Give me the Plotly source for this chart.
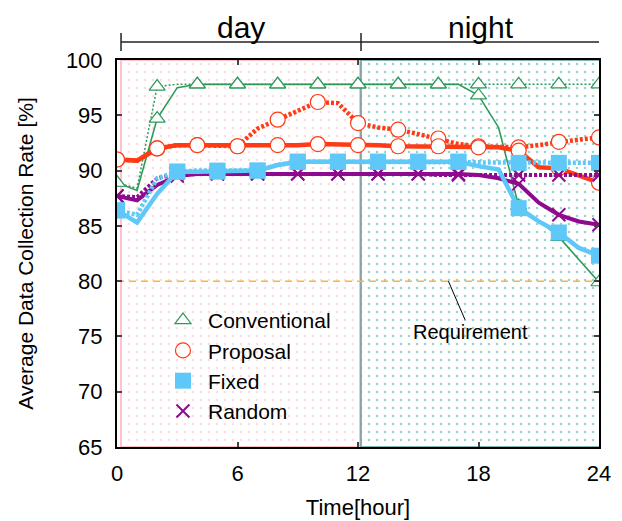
import plotly.graph_objects as go

hours = list(range(25))

conv_solid = [88.9, 88.2, 94.7, 97.5, 97.8, 97.8, 97.8, 97.8, 97.8, 97.8, 97.8, 97.8, 97.8,
              97.8, 97.8, 97.8, 97.8, 97.8, 96.8, 93.9, 86.8, 85.5, 84.0, 82.0, 79.9]
conv_dot = [88.9, 88.4, 97.6, 97.8, 97.8, 97.8, 97.8, 97.8, 97.8, 97.8, 97.8, 97.8, 97.8,
            97.8, 97.8, 97.8, 97.8, 97.8, 97.8, 97.8, 97.8, 97.8, 97.8, 97.8, 97.8]
prop_solid = [91.0, 90.9, 92.0, 92.3, 92.3, 92.3, 92.2, 92.3, 92.3, 92.3, 92.4, 92.4, 92.3,
              92.3, 92.2, 92.2, 92.2, 92.2, 92.1, 92.1, 91.8, 90.3, 90.2, 89.5, 88.9]
prop_dot = [91.0, 90.9, 92.0, 92.3, 92.3, 92.3, 92.2, 93.8, 94.6, 95.5, 96.2, 96.1, 94.3,
            93.9, 93.7, 93.3, 92.9, 92.4, 92.2, 92.1, 92.1, 92.3, 92.6, 92.8, 93.0]
fixed_solid = [86.4, 85.3, 87.9, 89.9, 89.9, 89.9, 90.0, 90.0, 90.5, 90.8, 90.8, 90.8, 90.8,
               90.8, 90.8, 90.8, 90.8, 90.8, 90.4, 90.1, 86.6, 85.4, 84.4, 83.0, 82.3]
fixed_dot = [86.4, 86.0, 89.3, 89.9, 90.0, 90.0, 90.0, 90.0, 90.5, 90.8, 90.8, 90.8, 90.8,
             90.8, 90.8, 90.8, 90.8, 90.8, 90.7, 90.7, 90.7, 90.7, 90.7, 90.7, 90.7]
rand_solid = [87.7, 87.3, 88.7, 89.5, 89.7, 89.7, 89.7, 89.7, 89.7, 89.7, 89.7, 89.7, 89.7,
              89.7, 89.7, 89.7, 89.7, 89.7, 89.6, 89.3, 88.8, 87.1, 86.0, 85.4, 85.1]
rand_dot = [87.7, 87.6, 89.3, 89.7, 89.7, 89.7, 89.7, 89.7, 89.7, 89.7, 89.7, 89.7, 89.7,
            89.7, 89.7, 89.7, 89.6, 89.6, 89.6, 89.6, 89.6, 89.6, 89.6, 89.6, 89.6]

even_marks = [0, 2, 4, 6, 8, 10, 12, 14, 16, 18, 20, 22, 24]
odd_marks = [0, 3, 5, 7, 9, 11, 13, 15, 17, 20, 22, 24]

requirement = 80
x_ticks = [0, 6, 12, 18, 24]
y_ticks = [65, 70, 75, 80, 85, 90, 95, 100]
period_labels = ["day", "night"]

GREEN = "#2e9a5a"
RED = "#ff3a14"
CYAN = "#5ec8f8"
PURPLE = "#8e0a8e"

fig = go.Figure()

# day / night background regions
fig.add_trace(go.Scatter(x=[0.2, 12.1, 12.1, 0.2, 0.2], y=[65, 65, 100, 100, 65], fill="toself",
                         mode="lines", line=dict(color="#ffc0cb", width=2), fillcolor="rgba(0,0,0,0)",
                         fillpattern=dict(shape=".", fgcolor="#ffb6c6", bgcolor="white", size=8, solidity=0.08),
                         showlegend=False, hoverinfo="skip"))
fig.add_trace(go.Scatter(x=[12.15, 24.15, 24.15, 12.15, 12.15], y=[65, 65, 100, 100, 65], fill="toself",
                         mode="lines", line=dict(color="#5f9ea0", width=1.5), fillcolor="rgba(0,0,0,0)",
                         fillpattern=dict(shape=".", fgcolor="#2aa8a8", bgcolor="white", size=8, solidity=0.08),
                         showlegend=False, hoverinfo="skip"))

# requirement line
fig.add_trace(go.Scatter(x=[0, 24], y=[requirement, requirement], mode="lines",
                         line=dict(color="#ffb52e", width=1.5, dash="7px,5px"),
                         showlegend=False, hoverinfo="skip"))


def add_series(name, solid, dot, marks, color, sw, dw, ddash, marker, rank):
    fig.add_trace(go.Scatter(x=hours, y=dot, mode="lines", line=dict(color=color, width=dw, dash=ddash),
                             showlegend=False, hoverinfo="skip"))
    fig.add_trace(go.Scatter(x=hours, y=solid, mode="lines", line=dict(color=color, width=sw),
                             showlegend=False, hoverinfo="skip"))
    fig.add_trace(go.Scatter(x=marks, y=[dot[h] for h in marks], mode="markers", marker=marker,
                             showlegend=False, hoverinfo="skip"))
    fig.add_trace(go.Scatter(x=marks, y=[solid[h] for h in marks], mode="markers", marker=marker,
                             name=name, legendrank=rank))


add_series("Conventional", conv_solid, conv_dot, even_marks, GREEN, 1.6, 1.5, "2px,2px",
           dict(symbol="triangle-up", size=14, color="white", line=dict(color=GREEN, width=1.2)), 1)
add_series("Proposal", prop_solid, prop_dot, even_marks, RED, 4.5, 4.5, "3px,2px",
           dict(symbol="circle", size=15, color="white", line=dict(color=RED, width=1.2)), 2)
add_series("Random", rand_solid, rand_dot, odd_marks, PURPLE, 4, 4, "3px,2px",
           dict(symbol="x-thin", size=13, color=PURPLE, line=dict(color=PURPLE, width=2)), 4)
add_series("Fixed", fixed_solid, fixed_dot, odd_marks, CYAN, 4.5, 4.5, "3px,2px",
           dict(symbol="square", size=16, color=CYAN, line=dict(width=0)), 3)

FONT = "Liberation Sans, Arial, sans-serif"

# page body has an 8px margin, so the figure is drawn 8px in from the window corner
fig.update_layout(
    width=614, height=513,
    margin=dict(l=109, r=23, t=52, b=74, autoexpand=False),
    paper_bgcolor="white", plot_bgcolor="white",
    font=dict(family=FONT, size=22, color="black"),
    showlegend=True,
    legend=dict(x=0.085, y=0.38, xanchor="left", yanchor="top", bgcolor="rgba(0,0,0,0)",
                font=dict(size=21), tracegroupgap=0, itemwidth=40),
    xaxis=dict(range=[0, 24], tickvals=x_ticks, ticks="inside", ticklen=5, tickwidth=1.5,
               showline=True, linecolor="black", linewidth=2, mirror="ticks", showgrid=False,
               zeroline=False, automargin=False, ticklabelstandoff=6,
               title=dict(text="Time[hour]", font=dict(size=22), standoff=14)),
    yaxis=dict(range=[65, 100], tickvals=y_ticks, ticks="inside", ticklen=5, tickwidth=1.5,
               showline=True, linecolor="black", linewidth=2, mirror="ticks", showgrid=False,
               zeroline=False, automargin=False, ticklabelstandoff=8,
               title=dict(text="Average Data Collection Rate [%]", font=dict(size=21), standoff=27)),
)

# top day/night bracket
bracket_y = 1.0465
for x0, x1 in [(0.2, 12.15), (12.15, 24.1)]:
    fig.add_shape(type="line", xref="x", yref="paper", x0=x0, x1=x1, y0=bracket_y, y1=bracket_y,
                  line=dict(color="#222", width=1.5))
for xv in [0.2, 12.15, 24.1]:
    fig.add_shape(type="line", xref="x", yref="paper", x0=xv, x1=xv, y0=1.023, y1=1.07,
                  line=dict(color="#222", width=1.5))
for xv, lab in zip([6.15, 18.1], period_labels):
    fig.add_annotation(x=xv, y=1.085, xref="x", yref="paper", text=lab, showarrow=False,
                       font=dict(size=30), yanchor="middle")

fig.add_annotation(x=16.5, y=requirement, text="Requirement", showarrow=True, arrowhead=0,
                   arrowwidth=1, arrowcolor="black", ax=22, ay=51, font=dict(size=20), standoff=0)

fig.write_html("out.html")
